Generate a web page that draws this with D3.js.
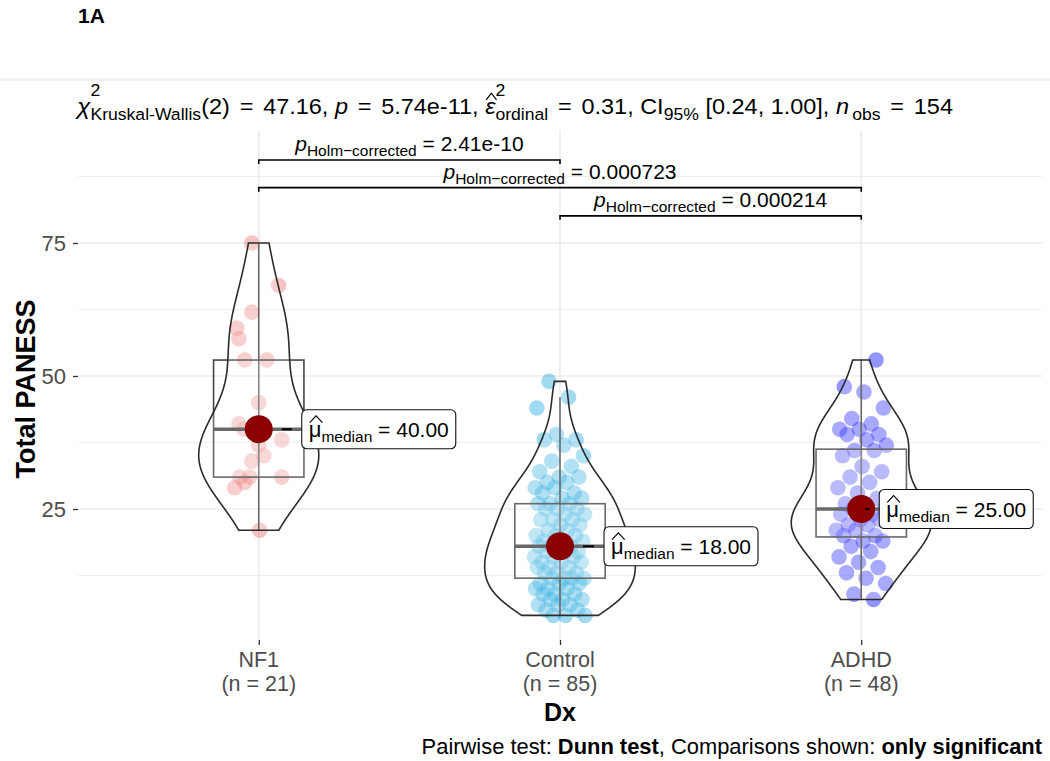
<!DOCTYPE html>
<html><head><meta charset="utf-8">
<script src="https://cdn.jsdelivr.net/npm/d3@7"></script>
<style>
body{margin:0;background:#fff}
text{font-family:"Liberation Sans",Arial,sans-serif;white-space:pre}
</style>
</head><body><svg id="c" width="1050" height="761"></svg>
<script>
// ---------------- data ----------------
const categories = ["NF1", "Control", "ADHD"];
const groupN = [21, 85, 48];
const nf1Values = [21,29,30,31,31,31,34,35,37,38,40,40,41,45,53,53,57,59,62,67,75];
const nf1Jitter = [0.003,-0.08,-0.047,-0.063,-0.03,0.076,-0.023,0.017,0,0.076,-0.05,0.017,-0.066,0,-0.047,0.027,-0.066,-0.073,-0.023,0.066,-0.023];
const controlValues = [5,5,5,6,6,7,7,7,8,8, 8,9,9,9,10,10,10,11,11,11, 12,12,
  12,12,13,13,13,14,14,14,15,15, 15,16,16,16,17,17,17,18,18,18,18,
  19,19,19,20,20,20,21,21,22,22, 23,23,23,24,24,25,25,25,26,26,26,
  27,27,28,28,29,29,30,30,31,31, 32,33,34,35,37,38,38,39,44,46,49];
const adhdValues = [8,9,11,12,13,14,15,16,17,18,19,19,
  20,20,21,21,22,22,23,23,24,24,25,25, 25,
  26,27,28,29,30,31,32,33,35,36,36,
  37,38,39,39,40,40,41,42,44,47,48,53];
const medianLabels = ["40.00", "18.00", "25.00"];
const yTicks = [25, 50, 75];
const yMinorTicks = [12.5, 37.5, 62.5, 87.5];
const comparisons = [["NF1", "Control"], ["NF1", "ADHD"], ["Control", "ADHD"]];
const comparisonP = ["2.41e-10", "0.000723", "0.000214"];
const comparisonY = [90.6, 85.4, 80.1];

// ---------------- style / layout ----------------
const groupColors = ["#E8706E", "#1AA7DE", "#0000FF"];
const labelNudge = [43, 44, 18];
const panel = {l: 78, r: 1042, t: 130, b: 640};

const svg = d3.select("#c");
const x = d3.scalePoint().domain(categories).range([panel.l, panel.r]).padding(0.6);
const unit = x.step();
const y = d3.scaleLinear().domain([0.38, 96.24]).range([panel.b, panel.t]);

// rich text helper
function rich(parent, x0, y0, segs, anchor, targetWidth) {
  const g = parent.append("g");
  let cx = 0;
  for (const s of segs) {
    if (s.gap) { cx += s.gap; continue; }
    if (s.stack) {
      let w = 0;
      if (s.sup) {
        const t = g.append("text").attr("x", cx).attr("y", s.supDy).style("font-size", s.supSize + "px").text(s.sup);
        w = Math.max(w, t.node().getComputedTextLength());
      }
      if (s.sub) {
        const t = g.append("text").attr("x", cx).attr("y", s.subDy).style("font-size", s.subSize + "px").text(s.sub);
        w = Math.max(w, t.node().getComputedTextLength());
      }
      cx += w;
      continue;
    }
    const t = g.append("text").attr("x", cx).attr("y", s.dy || 0)
      .style("font-size", s.fs + "px")
      .style("font-style", s.it ? "italic" : null)
      .style("font-weight", s.b ? "bold" : null)
      .text(s.t);
    const w = t.node().getComputedTextLength();
    if (s.hat) {
      const b = -s.fs * 0.64, p = -s.fs * 0.95;
      g.append("path").attr("d", `M${cx + 1},${b} L${cx + w / 2 + 1},${p} L${cx + w + 1},${b}`)
        .attr("fill", "none").attr("stroke", "#000").attr("stroke-width", 1.1);
    }
    cx += w;
  }
  const sx = targetWidth ? targetWidth / cx : 1;
  const tw = cx * sx;
  const shift = anchor === "middle" ? -tw / 2 : anchor === "end" ? -tw : 0;
  g.attr("transform", `translate(${x0 + shift},${y0}) scale(${sx},1)`);
  return {g, width: tw, left: x0 + shift};
}

// header
svg.append("text").attr("x", 78).attr("y", 23).style("font-size", "21px").style("font-weight", "bold").text("1A");
svg.append("rect").attr("x", 0).attr("y", 78).attr("width", 1050).attr("height", 3).attr("fill", "#f2f2f2");

// gridlines
const grid = svg.append("g");
grid.selectAll(".mn").data(yMinorTicks).join("line")
  .attr("x1", panel.l).attr("x2", panel.r).attr("y1", d => y(d)).attr("y2", d => y(d))
  .attr("stroke", "#EBEBEB").attr("stroke-width", 0.9);
grid.selectAll(".mj").data(yTicks).join("line")
  .attr("x1", panel.l).attr("x2", panel.r).attr("y1", d => y(d)).attr("y2", d => y(d))
  .attr("stroke", "#EBEBEB").attr("stroke-width", 1.6);
grid.selectAll(".vx").data(categories).join("line")
  .attr("x1", d => x(d)).attr("x2", d => x(d)).attr("y1", panel.t).attr("y2", panel.b)
  .attr("stroke", "#EBEBEB").attr("stroke-width", 1.6);

// axes
const yAxis = svg.append("g").attr("transform", `translate(${panel.l},0)`)
  .call(d3.axisLeft(y).tickValues(yTicks).tickSize(5).tickPadding(7));
yAxis.select(".domain").remove();
yAxis.selectAll(".tick line").attr("stroke", "#333").attr("stroke-width", 1.3);
yAxis.selectAll(".tick text").attr("fill", "#4D4D4D").style("font-size", "22px").style("font-family", "Liberation Sans, Arial, sans-serif");

const xAxis = svg.append("g").attr("transform", `translate(0,${panel.b})`)
  .call(d3.axisBottom(x).tickSize(5).tickFormat(""));
xAxis.select(".domain").remove();
xAxis.selectAll(".tick line").attr("stroke", "#333").attr("stroke-width", 1.3);
categories.forEach((c, i) => {
  svg.append("text").attr("x", x(c)).attr("y", 667).attr("text-anchor", "middle")
    .attr("fill", "#4D4D4D").style("font-size", "21.5px").text(c);
  svg.append("text").attr("x", x(c)).attr("y", 691).attr("text-anchor", "middle")
    .attr("fill", "#4D4D4D").style("font-size", "21.5px").text(`(n = ${groupN[i]})`);
});
svg.append("text").attr("x", (panel.l + panel.r) / 2).attr("y", 721).attr("text-anchor", "middle")
  .style("font-size", "25px").style("font-weight", "bold").text("Dx");
svg.append("text").attr("transform", `translate(35,389) rotate(-90)`)
  .attr("text-anchor", "middle").style("font-size", "27px").style("font-weight", "bold").text("Total PANESS");

// caption
rich(svg, 1042, 754, [
  {t: "Pairwise test: ", fs: 21.9},
  {t: "Dunn test", fs: 21.9, b: true},
  {t: ", Comparisons shown: ", fs: 21.9},
  {t: "only significant", fs: 21.9, b: true}
], "end");

// subtitle
const SF = 22, SS = 16.5;
rich(svg, 77, 114, [
  {t: "χ", fs: SF + 1, it: true},
  {stack: true, sup: "2", supSize: SS, supDy: -18, sub: "Kruskal-Wallis", subSize: SS, subDy: 6},
  {t: "(2)", fs: SF}, {gap: 3}, {t: " = ", fs: SF}, {gap: 3}, {t: "47.16, ", fs: SF},
  {t: "p", fs: SF, it: true},
  {gap: 3}, {t: " = ", fs: SF}, {gap: 3}, {t: "5.74e-11, ", fs: SF},
  {t: "ε", fs: SF, it: true, hat: true},
  {stack: true, sup: "2", supSize: SS, supDy: -18, sub: "ordinal", subSize: SS, subDy: 6},
  {gap: 3}, {t: " = ", fs: SF}, {gap: 3}, {t: "0.31, CI", fs: SF},
  {stack: true, sub: "95%", subSize: SS, subDy: 6},
  {t: " [0.24, 1.00], ", fs: SF},
  {t: "n", fs: SF, it: true},
  {gap: 3},
  {stack: true, sub: "obs", subSize: SS, subDy: 6},
  {gap: 3}, {t: " = ", fs: SF}, {gap: 3}, {t: "154", fs: SF}
], "start", 876);

// groups
const groups = [nf1Values, controlValues, adhdValues];
function gauss(u) { return Math.exp(-0.5 * u * u) / Math.sqrt(2 * Math.PI); }
function kde(vals) {
  const n = vals.length;
  const sd = d3.deviation(vals);
  const iqr = d3.quantile(vals, 0.75) - d3.quantile(vals, 0.25);
  const bw = 0.9 * Math.min(sd, iqr / 1.34) * Math.pow(n, -0.2);
  const mn = d3.min(vals), mx = d3.max(vals);
  return d3.range(512).map(i => {
    const v = mn + (mx - mn) * i / 511;
    return [v, d3.sum(vals, d => gauss((v - d) / bw)) / (n * bw)];
  });
}
const dens = groups.map(v => kde(v.slice().sort(d3.ascending)));
const maxD = d3.max(dens, d => d3.max(d, e => e[1]));

const plot = svg.append("g");
groups.forEach((vals, gi) => {
  const cx = x(categories[gi]);
  const sorted = vals.slice().sort(d3.ascending);
  plot.append("g").selectAll("circle").data(sorted).join("circle")
    .attr("cx", (d, i) => cx + unit * (gi === 0 ? nf1Jitter[i] : (((i * 0.6180339887 + gi * 0.37) % 1) - 0.5) * 0.17))
    .attr("cy", d => y(d)).attr("r", 7.8)
    .attr("fill", groupColors[gi]).attr("fill-opacity", 0.42);
});

groups.forEach((vals, gi) => {
  const cx = x(categories[gi]);
  const sorted = vals.slice().sort(d3.ascending);
  const q1 = d3.quantile(sorted, 0.25), med = d3.quantile(sorted, 0.5), q3 = d3.quantile(sorted, 0.75);
  const iqr = q3 - q1;
  const lo = d3.min(sorted.filter(v => v >= q1 - 1.5 * iqr));
  const hi = d3.max(sorted.filter(v => v <= q3 + 1.5 * iqr));
  const bw = 0.3 * unit / 2;
  const g = plot.append("g");
  g.append("line").attr("x1", cx).attr("x2", cx).attr("y1", y(lo)).attr("y2", y(hi))
    .attr("stroke", "#444").attr("stroke-width", 1.6);
  g.append("rect").attr("x", cx - bw).attr("width", 2 * bw).attr("y", y(q3)).attr("height", y(q1) - y(q3))
    .attr("fill", "#fff").attr("fill-opacity", 0.2).attr("stroke", "#444").attr("stroke-width", 1.6);
  g.append("line").attr("x1", cx - bw).attr("x2", cx + bw).attr("y1", y(med)).attr("y2", y(med))
    .attr("stroke", "#444").attr("stroke-width", 3.5);

  const half = 0.25 * unit;
  const d = dens[gi];
  const pts = d.map(e => [cx - e[1] / maxD * half, y(e[0])])
    .concat(d.slice().reverse().map(e => [cx + e[1] / maxD * half, y(e[0])]));
  g.append("path").attr("d", d3.line()(pts) + "Z")
    .attr("fill", "#fff").attr("fill-opacity", 0.2).attr("stroke", "#2b2b2b").attr("stroke-width", 1.6);
});

// centrality + labels
groups.forEach((vals, gi) => {
  const cx = x(categories[gi]);
  const med = d3.median(vals);
  const my = y(med);
  plot.append("circle").attr("cx", cx).attr("cy", my).attr("r", 14).attr("fill", "#8B0000");
  const L = cx + labelNudge[gi];
  const s0 = L - cx > 30 ? cx + 23 : cx + 4;
  plot.append("line").attr("x1", s0).attr("x2", L - 10).attr("y1", my).attr("y2", my)
    .attr("stroke", "#000").attr("stroke-width", 2);
  const box = plot.append("rect").attr("rx", 5).attr("ry", 5).attr("fill", "#fff").attr("stroke", "#111").attr("stroke-width", 1.1);
  const r = rich(plot, L + 7, my + 7.5, [
    {t: "μ", fs: 22, hat: true},
    {stack: true, sub: "median", subSize: 15.5, subDy: 5},
    {t: " = " + medianLabels[gi], fs: 21}
  ], "start");
  box.attr("x", L).attr("y", my - 19.5).attr("width", r.width + 14).attr("height", 39);
});

// pairwise brackets
comparisons.forEach((c, i) => {
  const x1 = x(c[0]), x2 = x(c[1]), yy = y(comparisonY[i]);
  svg.append("path").attr("d", `M${x1},${yy + 4} L${x1},${yy} L${x2},${yy} L${x2},${yy + 4}`)
    .attr("fill", "none").attr("stroke", "#000").attr("stroke-width", 1.6);
  rich(svg, (x1 + x2) / 2, yy - 9, [
    {t: "p", fs: 21, it: true},
    {stack: true, sub: "Holm−corrected", subSize: 15.5, subDy: 5},
    {t: " = " + comparisonP[i], fs: 21}
  ], "middle");
});
</script></body></html>
